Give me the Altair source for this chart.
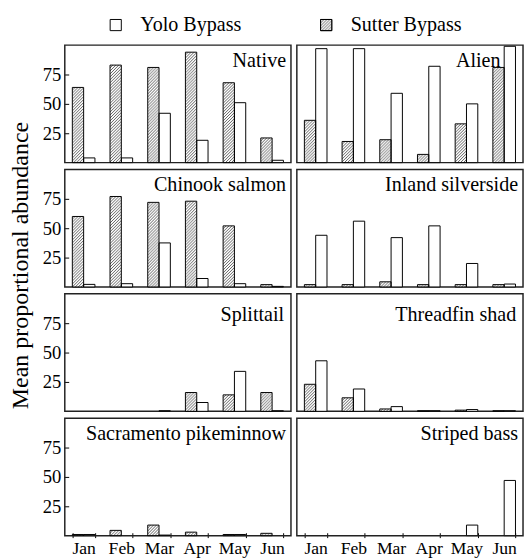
import base64
import altair as alt
import pandas as pd

months = ["Jan", "Feb", "Mar", "Apr", "May", "Jun"]
sites = ["Yolo Bypass", "Sutter Bypass"]
panels = ["Native", "Alien", "Chinook salmon", "Inland silverside",
          "Splittail", "Threadfin shad", "Sacramento pikeminnow", "Striped bass"]

native_sutter = [64, 83, 81, 94, 68, 21]
native_yolo = [4, 4, 42, 19, 51, 2]
alien_sutter = [36, 18, 19.5, 7, 33, 81]
alien_yolo = [97, 97, 59, 82, 50, 99]
chinook_sutter = [60, 77, 72, 73, 52, 2]
chinook_yolo = [2.2, 2.8, 37.5, 7.2, 2.8, 0.5]
silverside_sutter = [2, 2, 4.4, 2, 2, 2]
silverside_yolo = [44, 56, 42, 52, 20, 2.5]
splittail_sutter = [0, 0, 0, 16, 14, 16]
splittail_yolo = [0, 0, 0.5, 7.5, 34, 0.5]
shad_sutter = [23, 11.5, 2, 0.5, 1, 0.5]
shad_yolo = [43, 19, 4, 0.5, 1.5, 0.5]
pikeminnow_sutter = [1, 4.5, 9, 3, 1, 2]
pikeminnow_yolo = [1, 0, 0.5, 0, 1, 0]
bass_sutter = [0, 0, 0, 0, 0, 0]
bass_yolo = [0, 0, 0, 0, 9, 47]

series = {
    "Native": (native_yolo, native_sutter),
    "Alien": (alien_yolo, alien_sutter),
    "Chinook salmon": (chinook_yolo, chinook_sutter),
    "Inland silverside": (silverside_yolo, silverside_sutter),
    "Splittail": (splittail_yolo, splittail_sutter),
    "Threadfin shad": (shad_yolo, shad_sutter),
    "Sacramento pikeminnow": (pikeminnow_yolo, pikeminnow_sutter),
    "Striped bass": (bass_yolo, bass_sutter),
}

rows = []
for i, p in enumerate(panels):
    for site, vals in zip(sites, series[p]):
        for m, v in zip(months, vals):
            rows.append({"panel": p, "r": i // 2, "c": i % 2,
                         "month": m, "site": site, "value": v})
df = pd.DataFrame(rows)

FONT = "Liberation Serif"

hatch_svg = (
    "<svg xmlns='http://www.w3.org/2000/svg'>"
    "<defs><pattern id='h' patternUnits='userSpaceOnUse' width='3' height='3'>"
    "<rect width='3' height='3' fill='white'/>"
    "<path d='M0,3 L3,0 M-1,1 L1,-1 M2,4 L4,2' stroke='#333' stroke-width='0.8'/>"
    "</pattern></defs>"
    "<rect width='100%' height='100%' fill='url(#h)'/></svg>"
)
HATCH = "data:image/svg+xml;base64," + base64.b64encode(hatch_svg.encode()).decode()

x_enc = alt.X(
    "month:N", sort=months,
    scale=alt.Scale(paddingInner=0.4, paddingOuter=0.2),
    axis=alt.Axis(title=None, domain=False, labelAngle=0, tickBand="extent",
                  tickSize=5, offset=-5, labelPadding=2, labelFontSize=18),
)
xo_enc = alt.XOffset("site:N", sort=["Sutter Bypass", "Yolo Bypass"],
                     scale=alt.Scale(paddingInner=0, paddingOuter=0))
y_enc = alt.Y(
    "value:Q", scale=alt.Scale(domain=[0, 100], nice=False),
    axis=alt.Axis(title=None, domain=False, grid=False, values=[25, 50, 75],
                  tickSize=5, offset=-5, labelPadding=3, labelFontSize=19),
)

img = alt.Chart().transform_filter(
    "datum.site == 'Sutter Bypass' && datum.value > 0"
).mark_image(aspect=False).encode(
    x=x_enc, xOffset=xo_enc, y=y_enc, y2=alt.datum(0), url=alt.value(HATCH)
)

bars = alt.Chart().transform_filter("datum.value > 0").mark_bar(
    stroke="black", strokeWidth=1
).encode(
    x=x_enc, xOffset=xo_enc, y=y_enc,
    fill=alt.condition("datum.site == 'Yolo Bypass'",
                       alt.value("white"), alt.value("transparent")),
)


def label_layer(test, xpos, ypos):
    return alt.Chart().transform_filter(
        "datum.month == 'Jan' && datum.site == 'Yolo Bypass' && (" + test + ")"
    ).mark_text(align="right", baseline="alphabetic", font=FONT, fontSize=20.5,
                color="black").encode(
        text="panel:N", x=alt.value(xpos), y=alt.value(ypos)
    )


txt = label_layer("datum.panel != 'Alien' && datum.r != 2", 226, 22)
txt_row3 = label_layer("datum.r == 2", 224, 28)
txt_alien = label_layer("datum.panel == 'Alien'", 208, 22)

cell = alt.layer(img, bars, txt, txt_row3, txt_alien, data=df).properties(
    width=231, height=120)

facet = cell.facet(
    row=alt.Row("r:O", header=alt.Header(labels=False, title=None)),
    column=alt.Column("c:O", header=alt.Header(labels=False, title=None)),
    spacing={"row": 4, "column": 4},
).properties(
    title=alt.TitleParams("Mean proportional abundance", orient="left",
                          anchor="middle", font=FONT, fontSize=24.5,
                          fontWeight="normal", color="black", offset=9, dx=36)
)

leg_df = pd.DataFrame({"site": sites, "row": ["legend", "legend"]})
leg_base = alt.Chart(leg_df).encode(
    x=alt.X("site:N", sort=sites, axis=None,
            scale=alt.Scale(type="point", padding=0.242)),
    y=alt.Y("row:N", axis=None, scale=alt.Scale(type="point", padding=0.5)),
)
LEG_DY = -4
leg_sq = leg_base.mark_square(size=130, fill="white", stroke="black",
                              strokeWidth=1, opacity=1, yOffset=LEG_DY)
leg_img = leg_base.transform_filter("datum.site == 'Sutter Bypass'").mark_image(
    width=11, height=11, aspect=False, yOffset=LEG_DY).encode(url=alt.value(HATCH))
leg_sq2 = leg_base.transform_filter("datum.site == 'Sutter Bypass'").mark_square(
    size=130, fill="transparent", stroke="black", strokeWidth=1, opacity=1,
    yOffset=LEG_DY)
leg_txt = leg_base.mark_text(align="left", dx=25, font=FONT, fontSize=20.5,
                             color="black", yOffset=LEG_DY).encode(text="site:N")
legend = alt.layer(leg_sq, leg_img, leg_sq2, leg_txt).properties(
    width=319, height=27, view=alt.ViewBackground(stroke="transparent"))

chart = alt.vconcat(legend, facet, spacing=1).properties(padding=0).configure_view(
    stroke="#222", strokeWidth=1.5
).configure_axis(
    labelFont=FONT, labelColor="black", tickColor="black", tickWidth=1
)

chart.save("out.html", embed_options={"renderer": "svg", "actions": False})
